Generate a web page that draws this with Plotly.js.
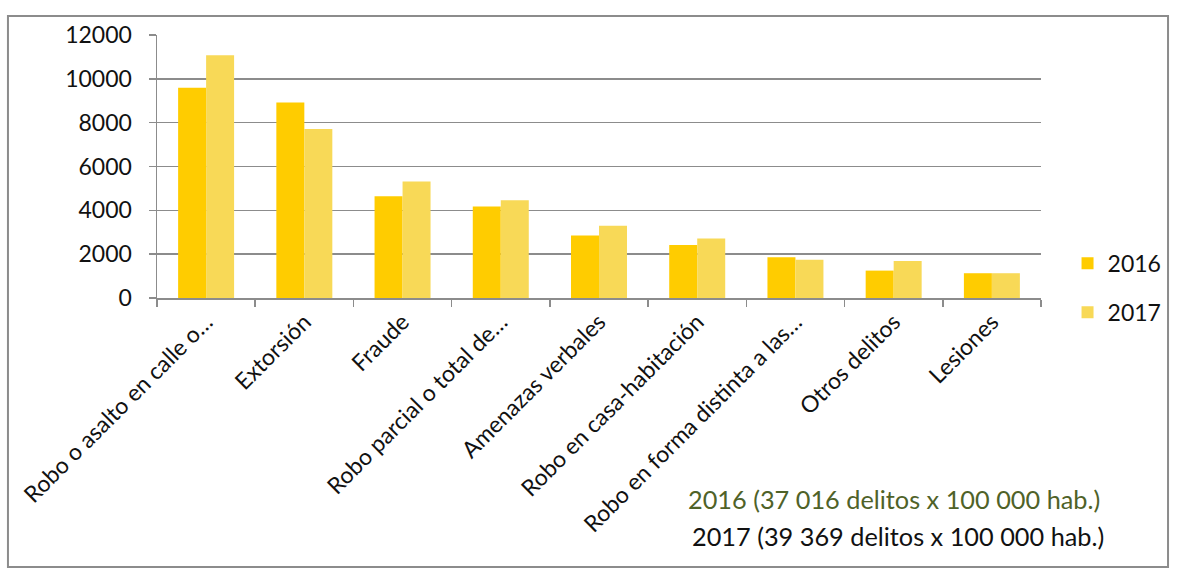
<!DOCTYPE html>
<html>
<head>
<meta charset="utf-8">
<script src="https://cdn.plot.ly/plotly-3.0.1.min.js"></script>
<style>html,body{margin:0;padding:0;background:#fff;}#chart{width:1177px;height:569px;}</style>
</head>
<body>
<div id="chart"></div>
<script>
const categories = [
  "Robo o asalto en calle o…",
  "Extorsión",
  "Fraude",
  "Robo parcial o total de…",
  "Amenazas verbales",
  "Robo en casa-habitación",
  "Robo en forma distinta a las…",
  "Otros delitos",
  "Lesiones"
];
const values2016 = [9590, 8920, 4640, 4170, 2850, 2420, 1860, 1250, 1130];
const values2017 = [11080, 7710, 5320, 4460, 3300, 2710, 1750, 1690, 1130];
const seriesNames = ["2016", "2017"];
const yTicks = [0, 2000, 4000, 6000, 8000, 10000, 12000];
const noteLines = [
  "2016 (37 016 delitos x 100 000 hab.)",
  "2017 (39 369 delitos x 100 000 hab.)"
];

const FONT = "Lato, 'Open Sans', sans-serif";

const traces = [
  {type: "bar", name: seriesNames[0], x: categories, y: values2016,
   marker: {color: "#FFCC00", line: {width: 0}}, legendgroup: "a", hoverinfo: "y"},
  {type: "bar", name: seriesNames[1], x: categories, y: values2017,
   marker: {color: "#F8D957", line: {width: 0}}, legendgroup: "b", hoverinfo: "y"}
];

const layout = {
  width: 1177, height: 569,
  margin: {l: 157, r: 136, t: 35, b: 271, autoexpand: false},
  paper_bgcolor: "#ffffff", plot_bgcolor: "#ffffff",
  font: {family: FONT, size: 22, color: "#111111"},
  barmode: "group", bargap: 0.43, bargroupgap: 0,
  showlegend: true,
  legend: {xref: "container", yref: "container", x: 0.907, xanchor: "left", y: 0.575, yanchor: "top",
           font: {family: FONT, size: 23, color: "#111"},
           tracegroupgap: 16, bgcolor: "rgba(0,0,0,0)", itemwidth: 30},
  xaxis: {
    type: "category", tickangle: -45, showgrid: false,
    showline: true, linecolor: "#8c8c8c", linewidth: 1.5,
    ticks: "outside", tickson: "boundaries", ticklen: 7, tickcolor: "#8c8c8c", tickwidth: 1.5,
    tickfont: {family: FONT, size: 23, color: "#111"}
  },
  yaxis: {
    range: [0, 12000], tickvals: yTicks, ticktext: yTicks.map(String),
    showgrid: true, gridcolor: "#8c8c8c", gridwidth: 1.5,
    showline: true, linecolor: "#8c8c8c", linewidth: 1.5,
    ticks: "outside", ticklen: 7, tickcolor: "#8c8c8c", tickwidth: 1.5,
    ticklabelstandoff: 12,
    zeroline: false,
    tickfont: {family: FONT, size: 23, color: "#111"}
  },
  annotations: [
    {xref: "paper", yref: "paper", x: 0.598, y: -0.765, xanchor: "left", yanchor: "middle",
     text: noteLines[0], showarrow: false, font: {family: FONT, size: 25.3, color: "#4F6228"}},
    {xref: "paper", yref: "paper", x: 0.6025, y: -0.905, xanchor: "left", yanchor: "middle",
     text: noteLines[1], showarrow: false, font: {family: FONT, size: 25.3, color: "#111"}}
  ],
  shapes: [
    {type: "rect", xref: "paper", yref: "paper",
     x0: -0.1686, x1: 1.1437, y0: -1.0228, y1: 1.0722,
     line: {color: "#8c8c8c", width: 2}, fillcolor: "rgba(0,0,0,0)", layer: "below"}
  ]
};

Plotly.newPlot("chart", traces, layout, {displayModeBar: false, staticPlot: true});
</script>
</body>
</html>
